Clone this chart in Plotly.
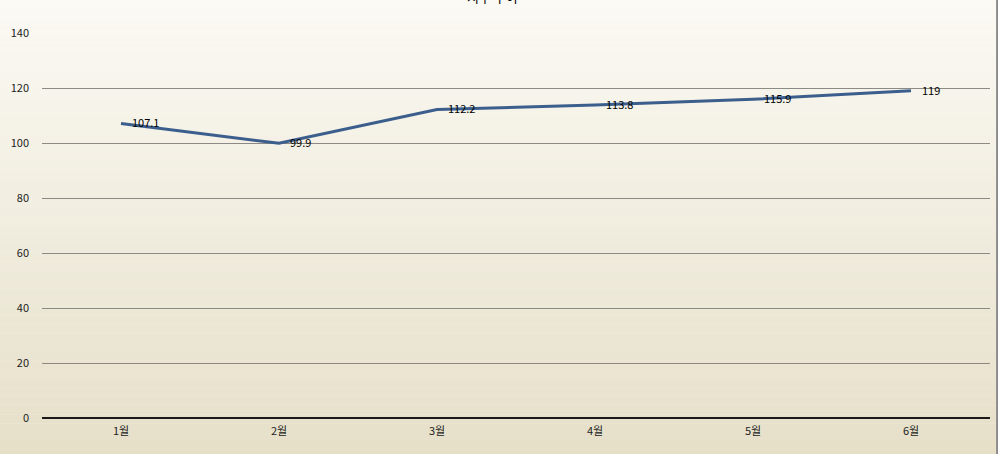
import plotly.graph_objects as go

chart_title = "지수 추이"
months = ["1월", "2월", "3월", "4월", "5월", "6월"]
values = [107.1, 99.9, 112.2, 113.8, 115.9, 119]
value_labels = ["107.1", "99.9", "112.2", "113.8", "115.9", "119"]
y_ticks = [0, 20, 40, 60, 80, 100, 120, 140]

FONT = "Noto Sans CJK KR, Liberation Sans, sans-serif"

fig = go.Figure()
fig.add_trace(go.Scatter(
    x=months, y=values, mode="lines",
    line=dict(color="#3b5e8c", width=3),
    showlegend=False, hoverinfo="x+y",
))

annotations = [
    dict(x=m, y=v, text=t, showarrow=False, xanchor="left", yanchor="middle",
         xshift=9, yshift=1, font=dict(family=FONT, size=11, color="#000000"))
    for m, v, t in zip(months, values, value_labels)
]
# chart title, mostly above the top edge as in the reference
annotations.append(dict(x=0.475, y=1, xref="paper", yref="paper", text=chart_title,
                        showarrow=False, xanchor="center", yanchor="middle",
                        yshift=37, font=dict(family=FONT, size=13, color="#000000")))

# background gradient (top near-white to bottom beige)
shapes = []
n = 60
top = (253, 252, 248)
bot = (228, 221, 197)
for i in range(n):
    t = i / (n - 1)
    c = tuple(round(top[k] + (bot[k] - top[k]) * t) for k in range(3))
    shapes.append(dict(type="rect", xref="paper", yref="paper",
                       x0=-0.1, x1=1.1,
                       y0=1.2 - (i + 1) * 1.4 / n, y1=1.2 - i * 1.4 / n,
                       fillcolor="rgb(%d,%d,%d)" % c, line=dict(width=0),
                       layer="below"))
# right border line
shapes.append(dict(type="line", xref="paper", yref="paper",
                   x0=1.0075, x1=1.0075, y0=-0.2, y1=1.2,
                   line=dict(color="#8a8a8a", width=2), layer="above"))

fig.update_layout(
    width=998, height=454,
    margin=dict(l=42, r=8, t=33, b=36),
    paper_bgcolor="#f4f0e4",
    plot_bgcolor="rgba(0,0,0,0)",
    shapes=shapes,
    annotations=annotations,
    xaxis=dict(type="category", range=[-0.5, 5.5], showgrid=False,
               tickfont=dict(family=FONT, size=11, color="#222222"),
               ticks="", showline=False, zeroline=False, ticklabelstandoff=5),
    yaxis=dict(range=[0, 140], tickvals=y_ticks, showgrid=True,
               gridcolor="#8c8a84", gridwidth=1, zeroline=True,
               zerolinecolor="#1a1a1a", zerolinewidth=2,
               tickfont=dict(family=FONT, size=11, color="#222222"),
               ticks="", ticklabelstandoff=12, showline=False),
    font=dict(family=FONT),
)

fig.write_html("out.html", config={"displayModeBar": False},
               post_script="document.body.style.margin='0';")
